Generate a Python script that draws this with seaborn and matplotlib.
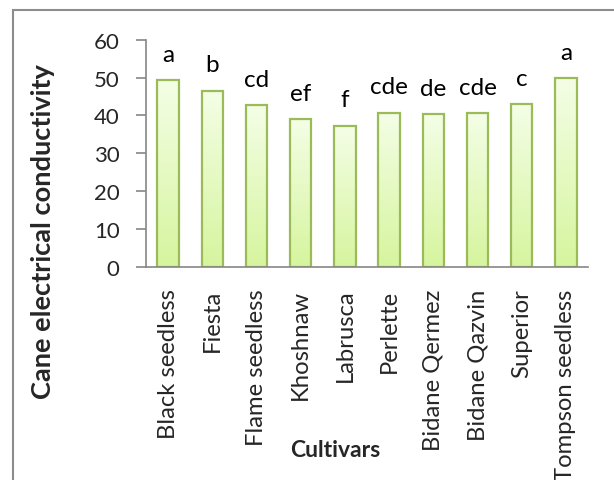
import numpy as np
import pandas as pd
import matplotlib.pyplot as plt
import seaborn as sns
from matplotlib.colors import LinearSegmentedColormap
from matplotlib.patches import Rectangle

# data
cultivars = ["Black seedless", "Fiesta", "Flame seedless", "Khoshnaw", "Labrusca",
             "Perlette", "Bidane Qermez", "Bidane Qazvin", "Superior", "Tompson seedless"]
conductivity = [49.3, 46.5, 42.7, 39.0, 37.3, 40.7, 40.3, 40.6, 42.9, 49.9]
letters = ["a", "b", "cd", "ef", "f", "cde", "de", "cde", "c", "a"]

df = pd.DataFrame({"cultivar": cultivars, "ec": conductivity})

sns.set_style("white")
plt.rcParams["font.family"] = ["Lato", "DejaVu Sans"]

fig = plt.figure(figsize=(6.14, 4.81), dpi=100)
ax = fig.add_axes([146 / 614, 1 - 268 / 481, (588 - 146) / 614, (268 - 40.7) / 481])

sns.barplot(data=df, x="cultivar", y="ec", color="#e4f9c0", edgecolor="#9bbb59",
            linewidth=1.6, width=0.48, ax=ax)

# gradient fill inside each bar
grad = LinearSegmentedColormap.from_list("g", ["#d6f59e", "#f4fee6"])
for p in ax.patches:
    x0, w, h = p.get_x(), p.get_width(), p.get_height()
    im = ax.imshow(np.linspace(0, 1, 256).reshape(-1, 1), cmap=grad, origin="lower",
                   extent=[x0, x0 + w, 0, h], aspect="auto", zorder=p.get_zorder() - 0.1)
    im.set_clip_path(p)
    p.set_facecolor("none")

ax.set_xlim(-0.5, len(cultivars) - 0.5)
ax.set_ylim(0, 60)
ax.set_yticks(range(0, 61, 10))

for i, (v, t) in enumerate(zip(conductivity, letters)):
    ax.annotate(t, (i, v), xytext=(0, 14), textcoords="offset points",
                ha="center", va="baseline", fontsize=17.5, color="black")

for s in ["top", "right"]:
    ax.spines[s].set_visible(False)
for s in ["left", "bottom"]:
    ax.spines[s].set_color("#868686")
    ax.spines[s].set_linewidth(1.2)

ax.tick_params(axis="y", which="major", left=True, length=7, width=1.2,
               color="#868686", pad=12, labelsize=16)
ax.tick_params(axis="x", bottom=False, pad=12, labelsize=17.2, labelrotation=90)

ax.set_xlabel("Cultivars", fontsize=16.5, fontweight="bold")
ax.xaxis.set_label_coords((335 - 146) / (588 - 146), -(440 - 268) / (268 - 40.7))
ax.set_ylabel("Cane electrical conductivity", fontsize=19.6, fontweight="bold")
ax.yaxis.set_label_coords(-(146 - 55) / (588 - 146), (268 - 232) / (268 - 40.7))

# outer chart frame
fig.patches.append(Rectangle((13 / 614, -0.1), 1.2, 1 - 11 / 481 + 0.1,
                             transform=fig.transFigure, fill=False,
                             edgecolor="#8c8c8c", linewidth=1.5))

fig.savefig("out.png", dpi=100)
